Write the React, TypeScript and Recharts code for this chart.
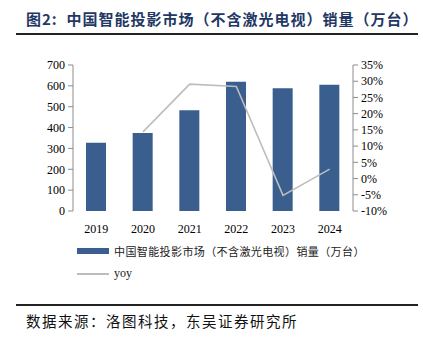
import React from "react";
import {
  ComposedChart,
  Bar,
  Line,
  XAxis,
  YAxis,
} from "recharts";

const years = ["2019", "2020", "2021", "2022", "2023", "2024"];
const sales = [327, 374, 483, 620, 588, 605];
const yoy = [null, 14.4, 29.1, 28.4, -5.2, 2.9];
const leftTicks = [0, 100, 200, 300, 400, 500, 600, 700];
const rightTicks = [-10, -5, 0, 5, 10, 15, 20, 25, 30, 35];
const boundaryTicks = [0, 1, 2, 3, 4, 5, 6];

const data = years.map((year, i) => ({
  year,
  sales: sales[i],
  yoy: yoy[i],
}));

const serif = '"Liberation Serif", "Times New Roman", serif';
const cjk = '"Noto Sans CJK SC", sans-serif';
const barColor = "#3A5E8E";
const lineColor = "#BDBDBD";
const axisColor = "#8C8C8C";

export default function App() {
  return (
    <div
      style={{
        position: "absolute",
        top: 0,
        left: 0,
        width: 423,
        height: 340,
        background: "#fff",
      }}
    >
      {/* 标题 */}
      <div
        style={{
          position: "absolute",
          left: 26,
          top: 8,
          fontFamily: cjk,
          fontWeight: 700,
          fontSize: 15,
          color: "#1F3864",
          whiteSpace: "nowrap",
          letterSpacing: 1,
        }}
      >
        图2:&nbsp; 中国智能投影市场（不含激光电视）销量（万台）
      </div>
      <div
        style={{
          position: "absolute",
          left: 16,
          top: 33,
          width: 402,
          height: 2,
          background: "#222",
        }}
      />

      <div style={{ position: "absolute", left: 0, top: 0 }}>
        <ComposedChart
          width={423}
          height={240}
          data={data}
          margin={{ top: 65, right: 0, left: 0, bottom: 0 }}
        >
          <XAxis
            xAxisId="b"
            type="number"
            dataKey={() => 0}
            domain={[0, 6]}
            ticks={boundaryTicks}
            height={0}
            stroke={axisColor}
            tickSize={5}
            tickFormatter={() => ""}
            interval={0}
            allowDataOverflow
          />
          <XAxis
            dataKey="year"
            height={29}
            axisLine={false}
            tickLine={false}
            interval={0}
            tick={{ fill: "#000", fontSize: 12, fontFamily: serif }}
            tickMargin={7}
          />
          <YAxis
            yAxisId="left"
            width={73}
            domain={[0, 700]}
            ticks={leftTicks}
            interval={0}
            stroke={axisColor}
            tickSize={5}
            tickMargin={3}
            tick={{ fill: "#000", fontSize: 12, fontFamily: serif }}
          />
          <YAxis
            yAxisId="right"
            orientation="right"
            width={70}
            domain={[-10, 35]}
            ticks={rightTicks}
            interval={0}
            stroke={axisColor}
            tickSize={5}
            tickMargin={3}
            tickFormatter={(v) => `${v}%`}
            tick={{ fill: "#000", fontSize: 12, fontFamily: serif }}
          />
          <Bar
            yAxisId="left"
            dataKey="sales"
            fill={barColor}
            barSize={20}
            isAnimationActive={false}
          />
          <Line
            yAxisId="right"
            dataKey="yoy"
            stroke={lineColor}
            strokeWidth={1.6}
            dot={false}
            activeDot={false}
            isAnimationActive={false}
          />
        </ComposedChart>
      </div>

      {/* 图例 */}
      <div
        style={{
          position: "absolute",
          left: 77,
          top: 248,
          width: 32,
          height: 6,
          background: barColor,
        }}
      />
      <div
        style={{
          position: "absolute",
          left: 114,
          top: 243,
          fontFamily: cjk,
          fontSize: 11,
          color: "#222",
          whiteSpace: "nowrap",
          letterSpacing: 0.4,
        }}
      >
        中国智能投影市场（不含激光电视）销量（万台）
      </div>
      <div
        style={{
          position: "absolute",
          left: 77,
          top: 273,
          width: 32,
          height: 1.5,
          background: lineColor,
        }}
      />
      <div
        style={{
          position: "absolute",
          left: 114,
          top: 266,
          fontFamily: serif,
          fontSize: 12,
          color: "#222",
        }}
      >
        yoy
      </div>

      {/* 数据来源 */}
      <div
        style={{
          position: "absolute",
          left: 16,
          top: 304,
          width: 402,
          height: 2,
          background: "#222",
        }}
      />
      <div
        style={{
          position: "absolute",
          left: 26,
          top: 310,
          fontFamily: cjk,
          fontSize: 14.5,
          color: "#111",
          whiteSpace: "nowrap",
          letterSpacing: 1.5,
        }}
      >
        数据来源：洛图科技，东吴证券研究所
      </div>
    </div>
  );
}
